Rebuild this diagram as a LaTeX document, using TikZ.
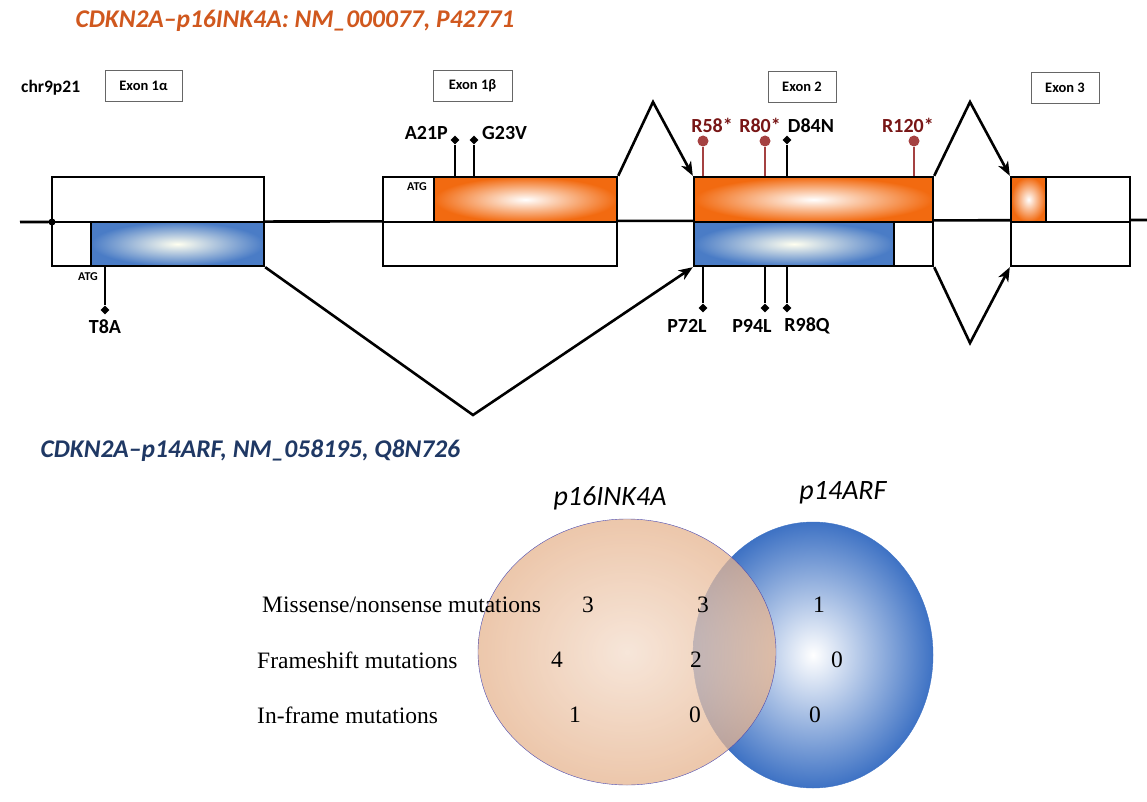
\documentclass[tikz,border=0pt]{standalone}
\usepackage{fontspec}
\setsansfont{Carlito}
\newfontfamily\vennfont{Liberation Serif}
\usetikzlibrary{shapes.geometric,arrows.meta}

\definecolor{titleor}{RGB}{208,88,30}
\definecolor{titlenv}{RGB}{31,56,100}
\definecolor{cdsor}{RGB}{242,106,16}
\definecolor{cdsbl}{RGB}{74,124,198}
\definecolor{nonsense}{RGB}{120,22,22}
\definecolor{nsstem}{RGB}{165,65,65}
\definecolor{peach}{RGB}{230,180,143}
\definecolor{vennbl}{RGB}{62,114,196}

\newcommand{\mutfont}{\sffamily\bfseries\fontsize{20}{24}\selectfont}
\newcommand{\exfont}{\sffamily\bfseries\fontsize{14.5}{17}\selectfont}
\newcommand{\rowfont}{\vennfont\fontsize{23.5}{27}\selectfont}

\tikzstyle{exlab}=[draw=gray!80!black, thick, fill=white, font=\exfont, minimum width=77pt, minimum height=31pt, inner sep=0pt]
\tikzstyle{utr}=[draw, line width=2.4pt, fill=white, inner sep=0pt, minimum height=44pt]
\tikzstyle{orbox}=[utr, inner color=white, outer color=cdsor]
\tikzstyle{blbox}=[utr, inner color=yellow!6!white, outer color=cdsbl]
\tikzstyle{dmd}=[diamond, fill, inner sep=0pt, minimum size=9pt]
\tikzstyle{pin}=[circle, fill=nsstem, inner sep=0pt, minimum size=11pt]
\tikzstyle{mut}=[font=\mutfont, inner sep=1pt]
\tikzstyle{ns}=[mut, text=nonsense]
\tikzstyle{atg}=[font=\sffamily\bfseries\fontsize{12}{13}\selectfont, inner sep=0pt]
\tikzstyle{splice}=[line width=2.6pt, -{Stealth[length=14pt,width=11pt,inset=4pt]}]
\tikzstyle{num}=[font=\rowfont, inner sep=0pt]
\tikzstyle{ttl}=[anchor=west, font=\sffamily\bfseries\itshape\fontsize{25.5}{29}\selectfont]
\tikzstyle{setlab}=[font=\sffamily\itshape\fontsize{28}{32}\selectfont]

\begin{document}
\begin{tikzpicture}[x=1pt, y=-1pt]
\useasboundingbox (0,0) rectangle (1147,802);

% titles
\node[ttl, text=titleor] (t16) at (72,21) {CDKN2A--p16INK4A: NM\_000077, P42771};
\node[ttl, text=titlenv] (t14) at (37,451) {CDKN2A--p14ARF, NM\_058195, Q8N726};
\node[anchor=west, font=\sffamily\bfseries\fontsize{17.5}{20}\selectfont, inner sep=0pt] (chr) at (21,88) {chr9p21};

% exon labels
\node[exlab] (x1a) at (143.5,86) {Exon 1α};
\node[exlab, minimum width=79pt] (x1b) at (472.5,86) {Exon 1β};
\node[exlab, minimum width=68pt] (x2) at (802,86.5) {Exon 2};
\node[exlab, minimum width=68pt] (x3) at (1065,87.5) {Exon 3};

% chromosome
\coordinate (chrL) at (20,222);
\coordinate (chrR) at (1147,220);
\draw[line width=2.6pt] (chrL) -- (chrR);

% exon 1 alpha
\node[utr, minimum width=212pt, minimum height=45pt] (e1atop) at (158,199.5) {};
\node[utr, minimum width=39pt] (e1autr) at (71.5,244) {};
\node[blbox, minimum width=173pt] (e1acds) at (177.5,244) {};
\node[circle, fill, inner sep=0pt, minimum size=7pt] (dot) at (52,222) {};

% exon 1 beta
\node[utr, minimum width=51pt, minimum height=45pt] (e1butr) at (408.5,199.5) {};
\node[orbox, minimum width=183pt, minimum height=45pt] (e1bcds) at (525.5,199.5) {};
\node[utr, minimum width=234pt] (e1bbot) at (500,244) {};

% exon 2
\node[orbox, minimum width=239pt, minimum height=45pt] (e2p16) at (813.5,199.5) {};
\node[blbox, minimum width=200pt] (e2p14) at (794,244) {};
\node[utr, minimum width=39pt] (e2utr) at (913.5,244) {};

% exon 3
\node[orbox, minimum width=35pt, minimum height=45pt] (e3cds) at (1028.5,199.5) {};
\node[utr, minimum width=84pt, minimum height=45pt] (e3utr) at (1088,199.5) {};
\node[utr, minimum width=119pt] (e3bot) at (1070.5,244) {};

\node[atg] (atg1) at (88,277) {ATG};
\node[atg] (atg2) at (417,187) {ATG};

% splicing
\coordinate (pk1) at (653,102);
\coordinate (v1) at (473,415);
\coordinate (pk2) at (970,102);
\coordinate (v2) at (970,343);
\draw[splice] (e1bcds.north east) -- (pk1) -- (e2p16.north west);
\draw[splice] (e1acds.south east) -- (v1) -- (e2p14.south west);
\draw[splice] (e2p16.north east) -- (pk2) -- (e3cds.north west);
\draw[splice] (e2utr.south east) -- (v2) -- (e3bot.south west);

% mutations
\node[dmd] (m8) at (105,310) {};
\node[dmd] (m21) at (455,140) {};
\node[dmd] (m23) at (474,140) {};
\node[pin] (m58) at (703,141) {};
\node[pin] (m80) at (765,141) {};
\node[dmd] (m84) at (787,140) {};
\node[pin] (m120) at (914,141) {};
\node[dmd] (m72) at (703,308) {};
\node[dmd] (m94) at (765,308) {};
\node[dmd] (m98) at (787,308) {};

\draw[line width=2pt] (e1acds.south -| m8) -- (m8);
\draw[line width=2pt] (e1bcds.north -| m21) -- (m21);
\draw[line width=2pt] (e1bcds.north -| m23) -- (m23);
\draw[line width=2pt, nsstem] (e2p16.north -| m58) -- (m58);
\draw[line width=2pt, nsstem] (e2p16.north -| m80) -- (m80);
\draw[line width=2pt] (e2p16.north -| m84) -- (m84);
\draw[line width=2pt, nsstem] (e2p16.north -| m120) -- (m120);
\draw[line width=2pt] (e2p14.south -| m72) -- (m72);
\draw[line width=2pt] (e2p14.south -| m94) -- (m94);
\draw[line width=2pt] (e2p14.south -| m98) -- (m98);

\node[mut] (l8) at (105,327) {T8A};
\node[mut, anchor=east] (l21) at (449,133) {A21P};
\node[mut, anchor=west] (l23) at (481,133) {G23V};
\node[ns] (l58) at (712,125) {R58*};
\node[ns] (l80) at (760,125) {R80*};
\node[mut] (l84) at (811,126) {D84N};
\node[ns] (l120) at (908,125) {R120*};
\node[mut] (l72) at (687,326) {P72L};
\node[mut] (l94) at (752,326) {P94L};
\node[mut] (l98) at (807,326) {R98Q};

% venn
\node[ellipse, draw=vennbl, inner color=white, outer color=vennbl, minimum width=240pt, minimum height=266pt] (arf) at (813,655) {};
\node[ellipse, draw=blue!40!gray, fill opacity=0.75, inner color=peach!45!white, outer color=peach, minimum width=298pt, minimum height=266pt] (ink) at (627,652) {};
\node[setlab] (lab16) at (610,498) {p16INK4A};
\node[setlab] (lab14) at (843,493) {p14ARF};

\node[num, anchor=west] (r1) at (262,605) {Missense/nonsense mutations};
\node[num, anchor=west] (r2) at (257,660) {Frameshift mutations};
\node[num, anchor=west] (r3) at (257,715) {In-frame mutations};

\node[num] (a1) at (588,605) {3};
\node[num] (b1) at (703,605) {3};
\node[num] (c1) at (819,605) {1};
\node[num] (a2) at (557,660) {4};
\node[num] (b2) at (696,660) {2};
\node[num] (c2) at (837,660) {0};
\node[num] (a3) at (575,715) {1};
\node[num] (b3) at (695,715) {0};
\node[num] (c3) at (815,715) {0};

\end{tikzpicture}
\end{document}
